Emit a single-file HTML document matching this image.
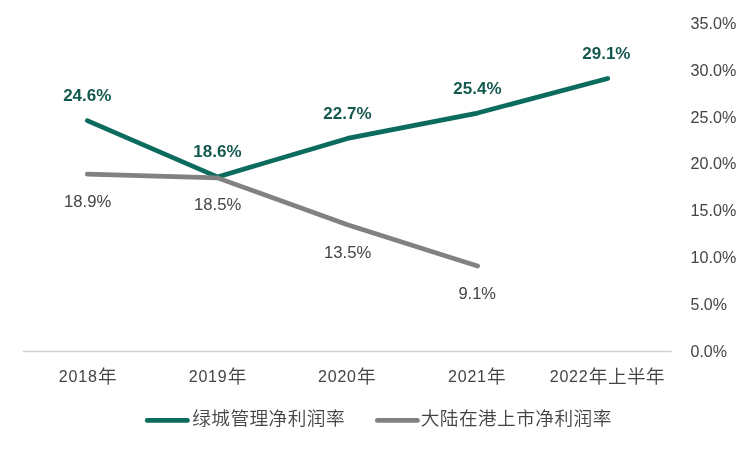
<!DOCTYPE html>
<html lang="zh-CN">
<head>
<meta charset="utf-8">
<title>净利润率</title>
<style>
html,body{margin:0;padding:0;background:#fff;}
body{width:750px;height:450px;overflow:hidden;}
svg{display:block;}
text{font-family:"Liberation Sans", "Noto Sans CJK SC", sans-serif;font-size:16px;fill:#444444;}
.b{font-weight:bold;fill:#14594f;font-size:15.8px;}
.c{font-size:18.67px;letter-spacing:0.45px;font-weight:350;}
</style>
</head>
<body>
<svg width="750" height="450" viewBox="0 0 750 450">
<rect width="750" height="450" fill="#fff"/>
<line x1="23.0" y1="351.5" x2="671.6" y2="351.5" stroke="#cfcfcf" stroke-width="1.3"/>
<text transform="translate(690.50 357.20) scale(1.001 1)">0.0%</text>
<text transform="translate(690.50 310.27) scale(1.001 1)">5.0%</text>
<text transform="translate(690.50 263.34) scale(1.009 1)">10.0%</text>
<text transform="translate(690.50 216.41) scale(1.009 1)">15.0%</text>
<text transform="translate(690.50 169.49) scale(1.009 1)">20.0%</text>
<text transform="translate(690.50 122.56) scale(1.009 1)">25.0%</text>
<text transform="translate(690.50 75.63) scale(1.009 1)">30.0%</text>
<text transform="translate(690.50 28.70) scale(1.009 1)">35.0%</text>
<polyline points="87.3,120.6 217.4,176.9 347.5,138.4 477.6,113.1 607.7,78.4" fill="none" stroke="#0b6c5e" stroke-width="4.67" stroke-linecap="round" stroke-linejoin="round"/>
<polyline points="87.3,174.1 217.4,177.9 347.5,224.8 477.6,266.1" fill="none" stroke="#818181" stroke-width="4.67" stroke-linecap="round" stroke-linejoin="round"/>
<text class="b" transform="translate(63.15 101.00) scale(1.078 1)">24.6%</text>
<text class="b" transform="translate(193.35 157.00) scale(1.078 1)">18.6%</text>
<text class="b" transform="translate(323.35 119.00) scale(1.078 1)">22.7%</text>
<text class="b" transform="translate(453.35 94.00) scale(1.078 1)">25.4%</text>
<text class="b" transform="translate(582.25 59.00) scale(1.078 1)">29.1%</text>
<text transform="translate(64.05 206.60) scale(1.043 1)">18.9%</text>
<text transform="translate(194.05 210.40) scale(1.043 1)">18.5%</text>
<text transform="translate(324.05 258.00) scale(1.043 1)">13.5%</text>
<text transform="translate(458.39 299.00) scale(1.031 1)">9.1%</text>
<text x="58.80" y="381.5"><tspan letter-spacing="0.8">2018</tspan><tspan class="c" dx="0.3" dy="1.1">年</tspan></text>
<text x="188.70" y="381.5"><tspan letter-spacing="0.8">2019</tspan><tspan class="c" dx="0.3" dy="1.1">年</tspan></text>
<text x="318.00" y="381.5"><tspan letter-spacing="0.8">2020</tspan><tspan class="c" dx="0.3" dy="1.1">年</tspan></text>
<text x="448.00" y="381.5"><tspan letter-spacing="0.8">2021</tspan><tspan class="c" dx="0.3" dy="1.1">年</tspan></text>
<text x="549.70" y="381.5"><tspan letter-spacing="0.8">2022</tspan><tspan class="c" dx="0.3" dy="1.1">年上半年</tspan></text>
<line x1="147.2" y1="420.4" x2="187.5" y2="420.4" stroke="#0b6c5e" stroke-width="4.67" stroke-linecap="round"/>
<text class="c" x="192.2" y="425.2">绿城管理净利润率</text>
<line x1="377.3" y1="420.4" x2="417.5" y2="420.4" stroke="#818181" stroke-width="4.67" stroke-linecap="round"/>
<text class="c" x="420.7" y="425.2">大陆在港上市净利润率</text>
</svg>
</body>
</html>
